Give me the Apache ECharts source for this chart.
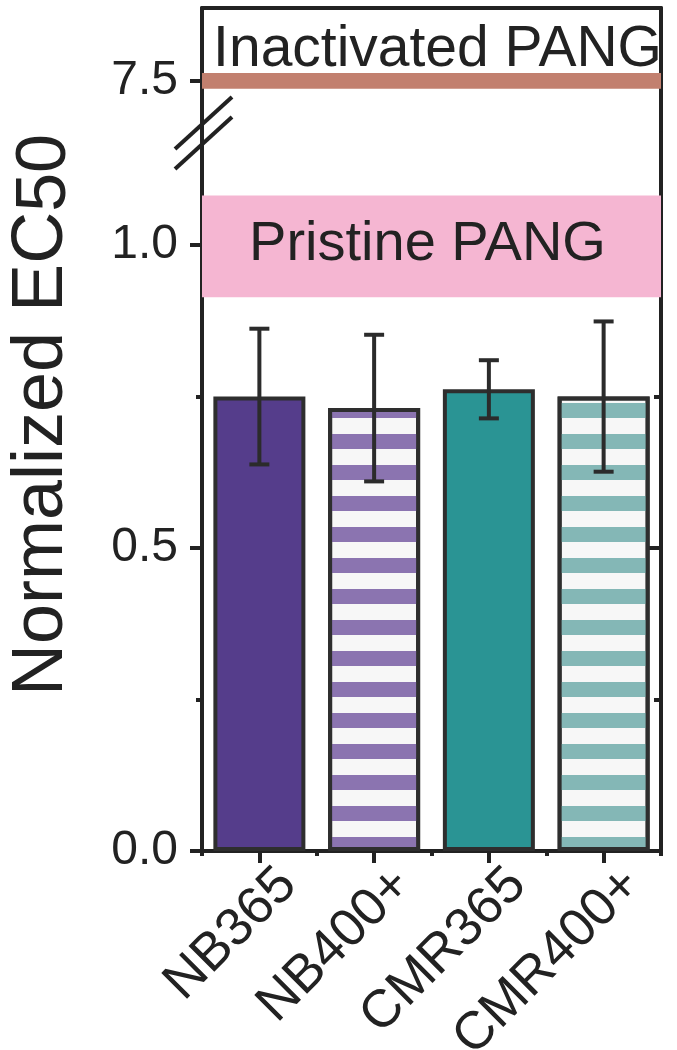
<!DOCTYPE html>
<html><head><meta charset="utf-8">
<script src="https://cdn.jsdelivr.net/npm/echarts@6/dist/echarts.min.js"></script>
<style>html,body{margin:0;padding:0;background:#fff;}#c{width:677px;height:1050px;}</style>
</head><body><div id="c"></div>
<script>
// ---- data ----
const categories = ['NB365', 'NB400+', 'CMR365', 'CMR400+'];
const means = [0.750, 0.731, 0.762, 0.750];
const errors = [0.112, 0.121, 0.048, 0.124];
const pristineBand = [0.914, 1.082];
const inactivatedBand = [7.487, 7.513];
const lowerTickValues = [0, 0.5, 1.0];
const lowerMinorTickValues = [0.25, 0.75];
const upperTickValues = [7.5];
const lowerRange = [0, 1.185];
const upperRange = [7.414, 7.62];

// ---- styles ----
const FONT = '"Liberation Sans", Arial, sans-serif';
const INK = '#222222';
const barStyles = [
  { color: '#553d8b' },
  { color: '#f7f7f7', stripe: '#8b74b0' },
  { color: '#2a9494' },
  { color: '#f7f7f7', stripe: '#84b7b6' }
];

function stripeDecal(c) {
  return { symbol: 'rect', symbolSize: 1, symbolKeepAspect: false, color: c,
           dashArrayX: [[10, 0]], dashArrayY: [15, 16], rotation: 0 };
}

const chart = echarts.init(document.getElementById('c'), null, { renderer: 'canvas' });

const lineSt = { color: INK, width: 4 };
const hidden = { show: false };

const option = {
  animation: false,
  backgroundColor: '#ffffff',
  grid: [
    { left: 202, right: 16, top: 8, height: 125, containLabel: false, outerBoundsMode: 'none' },
    { left: 202, right: 16, top: 133, bottom: 199, containLabel: false, outerBoundsMode: 'none' }
  ],
  xAxis: [
    { gridIndex: 0, type: 'category', data: categories, position: 'top',
      axisLine: { show: true, lineStyle: lineSt }, axisTick: hidden, axisLabel: hidden, splitLine: hidden },
    { gridIndex: 1, type: 'category', data: categories, position: 'bottom',
      axisLine: { show: true, lineStyle: lineSt },
      axisTick: { show: true, alignWithLabel: true, length: 12, lineStyle: lineSt },
      axisLabel: { show: true, interval: 0, rotate: 45, margin: 4,
                   formatter: v => '{a|' + v + '}',
                   rich: { a: { fontSize: 53, fontFamily: FONT, color: INK, padding: [72, -5, 0, 0] } } },
      splitLine: hidden },
    { gridIndex: 1, type: 'category', data: categories, position: 'bottom',
      axisLine: hidden,
      axisTick: { show: true, alignWithLabel: false, length: 5, lineStyle: lineSt },
      axisLabel: hidden, splitLine: hidden }
  ],
  yAxis: [
    { gridIndex: 0, type: 'value', position: 'left', min: upperRange[0], max: upperRange[1],
      axisLine: { show: true, lineStyle: lineSt },
      axisTick: { show: true, customValues: upperTickValues, length: 12, lineStyle: lineSt },
      axisLabel: { show: true, customValues: upperTickValues, formatter: v => v.toFixed(1),
                   fontSize: 48, fontFamily: FONT, color: INK, margin: 24, padding: [0, 0, 12, 0] },
      splitLine: hidden },
    { gridIndex: 0, type: 'value', position: 'right', min: upperRange[0], max: upperRange[1],
      axisLine: { show: true, lineStyle: lineSt },
      axisTick: { show: true, inside: true, customValues: upperTickValues, length: 12, lineStyle: lineSt },
      axisLabel: hidden, splitLine: hidden },
    { gridIndex: 1, type: 'value', position: 'left', min: lowerRange[0], max: lowerRange[1],
      axisLine: { show: true, lineStyle: lineSt },
      axisTick: { show: true, customValues: lowerTickValues, length: 12, lineStyle: lineSt },
      axisLabel: { show: true, customValues: lowerTickValues, formatter: v => v.toFixed(1),
                   fontSize: 48, fontFamily: FONT, color: INK, margin: 24, padding: [0, 0, 12, 0] },
      splitLine: hidden },
    { gridIndex: 1, type: 'value', position: 'left', min: lowerRange[0], max: lowerRange[1],
      axisLine: hidden,
      axisTick: { show: true, customValues: lowerMinorTickValues, length: 6, lineStyle: lineSt },
      axisLabel: hidden, splitLine: hidden },
    { gridIndex: 1, type: 'value', position: 'right', min: lowerRange[0], max: lowerRange[1],
      axisLine: { show: true, lineStyle: lineSt },
      axisTick: { show: true, inside: true, customValues: lowerTickValues, length: 12, lineStyle: lineSt },
      axisLabel: hidden, splitLine: hidden },
    { gridIndex: 1, type: 'value', position: 'right', min: lowerRange[0], max: lowerRange[1],
      axisLine: hidden,
      axisTick: { show: true, inside: true, customValues: lowerMinorTickValues, length: 7, lineStyle: lineSt },
      axisLabel: hidden, splitLine: hidden }
  ],
  series: [
    { type: 'bar', xAxisIndex: 0, yAxisIndex: 0, data: categories.map(() => null), silent: true,
      markArea: { silent: true,
        itemStyle: { color: '#c2806f', opacity: 1 },
        label: { show: true, position: 'top', distance: 0, offset: [6, 6], formatter: 'Inactivated PANG',
                 fontSize: 57, fontFamily: FONT, color: INK },
        data: [[{ yAxis: inactivatedBand[0] }, { yAxis: inactivatedBand[1] }]] } },
    { type: 'bar', xAxisIndex: 1, yAxisIndex: 2, barWidth: 92, silent: true, z: 3,
      data: means.map((v, i) => ({ value: v, itemStyle: {
        color: barStyles[i].color, borderColor: '#2e2e2e', borderWidth: 4,
        decal: barStyles[i].stripe ? stripeDecal(barStyles[i].stripe) : null } })),
      markArea: { silent: true,
        itemStyle: { color: '#f5b6d2', opacity: 1 },
        label: { show: true, position: 'inside', offset: [-4, -2], formatter: 'Pristine PANG',
                 fontSize: 56, fontFamily: FONT, color: INK },
        data: [[{ yAxis: pristineBand[0] }, { yAxis: pristineBand[1] }]] } },
    { type: 'custom', xAxisIndex: 1, yAxisIndex: 2, z: 5, silent: true,
      encode: { x: 0, y: 1 },
      data: means.map((m, i) => [i, m, errors[i]]),
      renderItem: function (params, api) {
        const x = api.value(0), m = api.value(1), e = api.value(2);
        const t = api.coord([x, m + e]), b = api.coord([x, m - e]);
        const hw = 10, st = { stroke: '#2b2b2b', lineWidth: 4 };
        return { type: 'group', children: [
          { type: 'line', shape: { x1: t[0], y1: t[1], x2: b[0], y2: b[1] }, style: st },
          { type: 'line', shape: { x1: t[0] - hw, y1: t[1], x2: t[0] + hw, y2: t[1] }, style: st },
          { type: 'line', shape: { x1: b[0] - hw, y1: b[1], x2: b[0] + hw, y2: b[1] }, style: st }
        ] };
      } }
  ],
  graphic: [
    { type: 'text', x: 42, y: 415, rotation: Math.PI / 2, silent: true,
      style: { text: '{m|Normalized EC}{s|50}', align: 'center', verticalAlign: 'middle',
        rich: {
          m: { fontSize: 72, fontFamily: FONT, fill: INK, color: INK, verticalAlign: 'top', lineHeight: 72 },
          s: { fontSize: 70, fontFamily: FONT, fill: INK, color: INK, verticalAlign: 'top', lineHeight: 72, padding: [5, 0, 0, 0] }
        } } },
    { type: 'line', silent: true, shape: { x1: 175, y1: 149, x2: 232, y2: 97 },
      style: { stroke: INK, lineWidth: 4 } },
    { type: 'line', silent: true, shape: { x1: 175, y1: 169, x2: 232, y2: 117 },
      style: { stroke: INK, lineWidth: 4 } }
  ]
};
chart.setOption(option);
</script>
</body></html>
